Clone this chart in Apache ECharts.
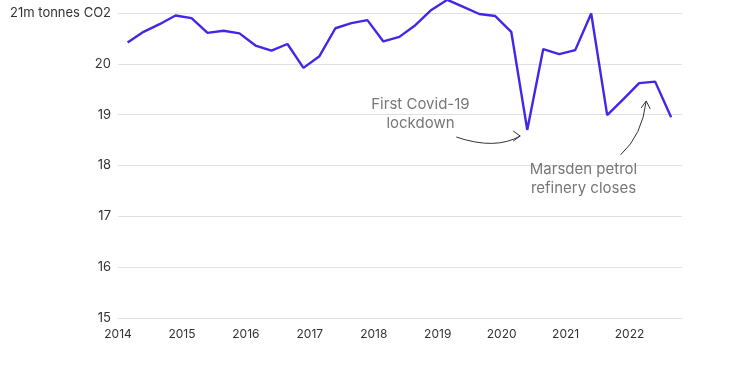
<!DOCTYPE html>
<html><head><meta charset="utf-8">
<script src="https://cdn.jsdelivr.net/npm/echarts@6/dist/echarts.min.js"></script>
<style>html,body{margin:0;padding:0;background:#fff}#c{width:749px;height:365px}</style>
</head><body><div id="c"></div>
<script>
// Quarterly CO2 emissions (m tonnes), 2014 Q1 .. 2022 Q3, plotted at mid-quarter
const firstQuarter = 2014.15;
const values = [20.42, 20.63, 20.78, 20.95, 20.90, 20.61, 20.65, 20.60,
  20.36, 20.26, 20.39, 19.92, 20.15, 20.70, 20.80, 20.86,
  20.44, 20.53, 20.76, 21.06, 21.26, 21.12, 20.98, 20.94,
  20.63, 18.70, 20.29, 20.19, 20.27, 20.99, 18.99, 19.30,
  19.62, 19.65, 18.95];
const yTicks = [15, 16, 17, 18, 19, 20, 21];
const xTicks = [2014, 2015, 2016, 2017, 2018, 2019, 2020, 2021, 2022];
const covidNote = ['First Covid-19', 'lockdown'];
const refineryNote = ['Marsden petrol', 'refinery closes'];

const data = values.map((v, i) => [firstQuarter + i * 0.25, v]);
const font = 'Inter, "Noto Sans", sans-serif';
const chart = echarts.init(document.getElementById('c'));
chart.setOption({
  animation: false,
  grid: {left: 118, right: 67, top: 13, bottom: 47, containLabel: false},
  xAxis: {
    type: 'value', min: 2014, max: 2022.82, interval: 1,
    axisLine: {show: false}, axisTick: {show: false}, splitLine: {show: false},
    axisLabel: {color: '#333', fontFamily: font, fontSize: 12, margin: 10,
      showMaxLabel: false,
      formatter: v => xTicks.includes(v) ? String(v) : ''}
  },
  yAxis: {
    type: 'value', min: yTicks[0], max: yTicks[yTicks.length - 1], interval: 1,
    axisLine: {show: false}, axisTick: {show: false},
    splitLine: {lineStyle: {color: '#e0e0e0', width: 1}},
    axisLabel: {color: '#333', fontFamily: font, fontSize: 13, margin: 7,
      formatter: v => v === 21 ? '21m tonnes CO2' : String(v)}
  },
  series: [{
    type: 'line', data: data, clip: false, showSymbol: false, symbol: 'none',
    lineStyle: {color: '#4227e6', width: 2.4}, z: 5
  }]
});

function p(x, y) { return chart.convertToPixel({gridIndex: 0}, [x, y]); }
const annStyle = {fill: '#777', font: '15px ' + font, textAlign: 'center', textVerticalAlign: 'middle'};
const c1 = p(2018.73, 19.21);
const r1 = p(2021.28, 17.93);
const a1s = p(2019.29, 18.56), a1e = p(2020.29, 18.58), a1c = p(2019.90, 18.30);
const a2s = p(2021.86, 18.21), a2e = p(2022.26, 19.27), a2c = p(2022.20, 18.6);
const stroke = {stroke: '#333', lineWidth: 1, fill: null};
chart.setOption({
  graphic: [
    {type: 'text', x: c1[0], y: c1[1], style: Object.assign({text: covidNote[0]}, annStyle)},
    {type: 'text', x: c1[0], y: c1[1] + 19, style: Object.assign({text: covidNote[1]}, annStyle)},
    {type: 'text', x: r1[0], y: r1[1], style: Object.assign({text: refineryNote[0]}, annStyle)},
    {type: 'text', x: r1[0], y: r1[1] + 19, style: Object.assign({text: refineryNote[1]}, annStyle)},
    {type: 'bezierCurve', shape: {x1: a1s[0], y1: a1s[1], x2: a1e[0], y2: a1e[1], cpx1: a1c[0], cpy1: a1c[1]}, style: stroke},
    {type: 'polyline', shape: {points: [[a1e[0] - 7, a1e[1] - 5], [a1e[0], a1e[1]], [a1e[0] - 7, a1e[1] + 5]]}, style: stroke},
    {type: 'bezierCurve', shape: {x1: a2s[0], y1: a2s[1], x2: a2e[0], y2: a2e[1], cpx1: a2c[0], cpy1: a2c[1]}, style: stroke},
    {type: 'polyline', shape: {points: [[a2e[0] - 5, a2e[1] + 7], [a2e[0], a2e[1]], [a2e[0] + 4, a2e[1] + 8]]}, style: stroke}
  ]
});
</script></body></html>
